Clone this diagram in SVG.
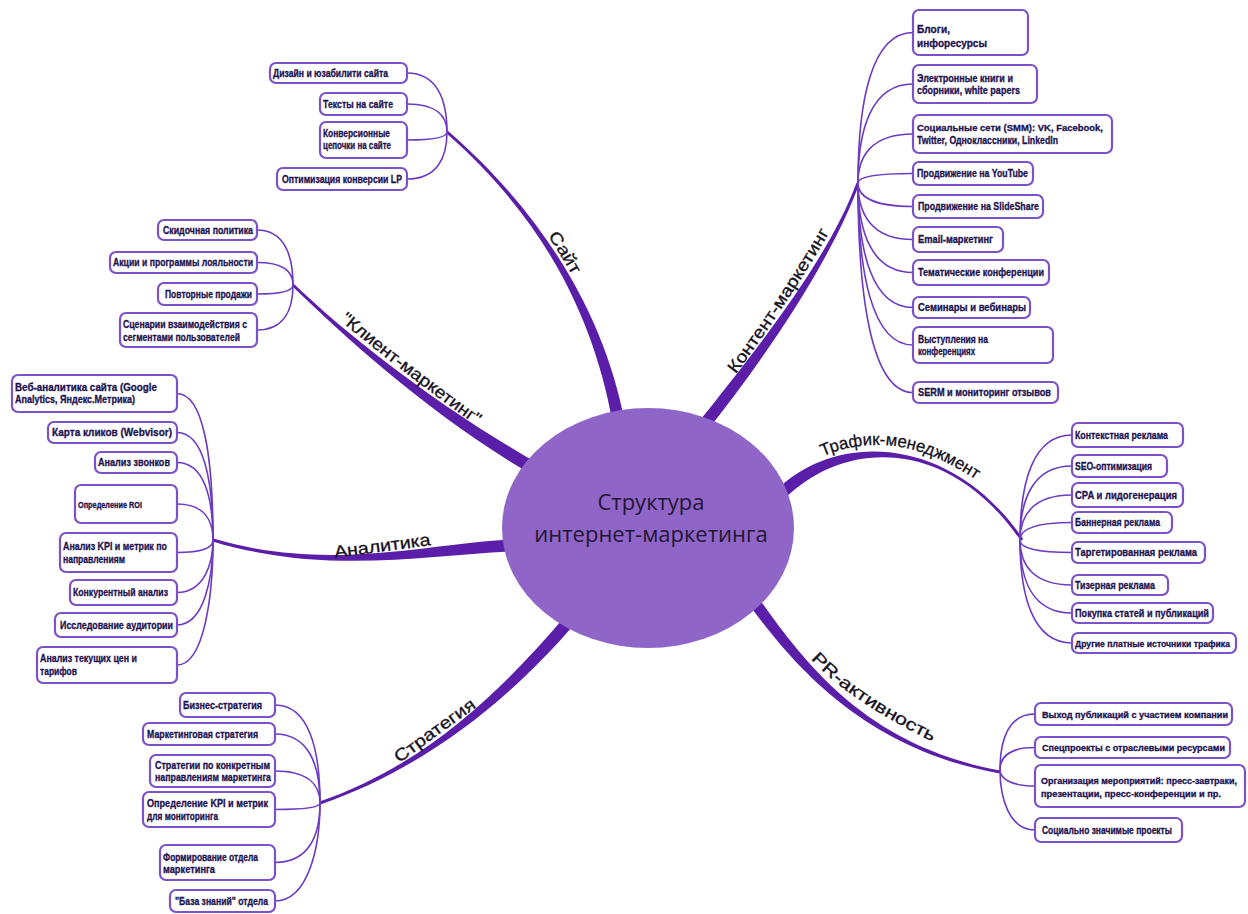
<svg xmlns="http://www.w3.org/2000/svg" width="1248" height="914" viewBox="0 0 1248 914">
<style>
  .box { fill: #ffffff; stroke: #7b52c9; stroke-width: 2.2; }
  .bt { font-family: "Liberation Sans", Arial, sans-serif; font-weight: bold; font-size: 10px; fill: #1d1250; stroke: #1d1250; stroke-width: 0.3; }
  .sm { font-size: 9px; }
  .fan { fill: none; stroke: #6c3bc2; stroke-width: 1.6; }
  .branch { fill: #5b1ea8; }
  .lbl { font-family: "Liberation Sans", Arial, sans-serif; font-size: 17px; fill: #141020; stroke: #141020; stroke-width: 0.3; }
  .title { font-family: "Open Sans", "Noto Sans", sans-serif; font-size: 22px; fill: #231634; }
</style>
<defs>
  <path id="lp-site" d="M 525.6,203.4 Q 560,250 591,310"/>
  <path id="lp-client" d="M 330,312 Q 401,372 487,433"/>
  <path id="lp-analytics" d="M 318,560 L 448,543"/>
  <path id="lp-strategy" d="M 390,770 L 486,700"/>
  <path id="lp-content" d="M 731.9,379.3 Q 788.2,303.6 832.5,227.1"/>
  <path id="lp-traffic" d="M 819,458 Q 895,423 979,482"/>
  <path id="lp-pr" d="M 793,636 Q 829,693 942,746"/>
</defs>
<rect width="1248" height="914" fill="#ffffff"/>

<g id="connectors">
  <!-- main tapered branches -->
  <path class="branch" d="M 625.9,429 C 610.9,339 561,228.9 448,130.9 L 446,133.1 C 559,231.1 599.1,341 614.1,431 Z"/>
  <path class="branch" d="M 543,466.5 C 443,409.5 351,338.9 294,283.9 L 292,286.1 C 349,341.1 437,420.5 537,477.5 Z"/>
  <path class="branch" d="M 519.8,539 C 429.8,542 330.4,573.6 213.4,538.6 L 212.6,541.4 C 329.6,576.4 430.2,554 520.2,551 Z"/>
  <path class="branch" d="M 565.4,616 C 505.4,686 429.5,763.6 319.5,801.6 L 320.5,804.4 C 430.5,766.4 514.6,694 574.6,624 Z"/>
  <path class="branch" d="M 704.7,433.8 C 764.7,358.8 831.4,260.5 859.4,183.5 L 856.6,182.5 C 828.6,259.5 755.3,351.2 695.3,426.2 Z"/>
  <path class="branch" d="M 784.2,499.2 C 844.2,439.2 948.8,435.9 1020.8,540.9 L 1023.2,539.1 C 951.2,434.1 835.8,430.8 775.8,490.8 Z"/>
  <path class="branch" d="M 730.1,578.5 C 780.1,648.5 849.7,746.5 999.7,773.5 L 1000.3,770.5 C 850.3,743.5 789.9,641.5 739.9,571.5 Z"/>

  <!-- site fan -->
  <path class="fan" d="M 407,73 C 437,73 447,99.6 447,132"/>
  <path class="fan" d="M 407,104 C 437,104 447,116.6 447,132"/>
  <path class="fan" d="M 407,140 C 437,140 447,136.4 447,132"/>
  <path class="fan" d="M 407,179 C 437,179 447,157.9 447,132"/>
  <!-- client marketing fan -->
  <path class="fan" d="M 257,230 C 284,230 293,254.8 293,285"/>
  <path class="fan" d="M 257,262.5 C 284,262.5 293,272.6 293,285"/>
  <path class="fan" d="M 257,294 C 284,294 293,290 293,285"/>
  <path class="fan" d="M 257,330 C 284,330 293,309.8 293,285"/>
  <!-- analytics fan -->
  <path class="fan" d="M 177,393.5 C 204,393.5 213,459.4 213,540"/>
  <path class="fan" d="M 177,432.5 C 204,432.5 213,480.9 213,540"/>
  <path class="fan" d="M 177,462.5 C 204,462.5 213,497.4 213,540"/>
  <path class="fan" d="M 177,504 C 204,504 213,520.2 213,540"/>
  <path class="fan" d="M 177,552.5 C 204,552.5 213,546.9 213,540"/>
  <path class="fan" d="M 177,592.5 C 204,592.5 213,563.6 213,540"/>
  <path class="fan" d="M 177,625 C 204,625 213,578.3 213,540"/>
  <path class="fan" d="M 177,665 C 204,665 213,596.3 213,540"/>
  <!-- strategy fan -->
  <path class="fan" d="M 275,705 C 308.75,705 320,749.1 320,803"/>
  <path class="fan" d="M 275,734 C 308.75,734 320,765 320,803"/>
  <path class="fan" d="M 275,771 C 308.75,771 320,785.4 320,803"/>
  <path class="fan" d="M 275,809.5 C 308.75,809.5 320,806.6 320,803"/>
  <path class="fan" d="M 275,862.5 C 308.75,862.5 320,835.7 320,803"/>
  <path class="fan" d="M 275,901 C 308.75,901 320,845.9 320,803"/>
  <!-- content marketing fan -->
  <path class="fan" d="M 913,32.5 C 871.75,32.5 858,100.2 858,183"/>
  <path class="fan" d="M 913,84 C 871.75,84 858,128.6 858,183"/>
  <path class="fan" d="M 913,134 C 871.75,134 858,156 858,183"/>
  <path class="fan" d="M 913,173.5 C 871.75,173.5 858,177.8 858,183"/>
  <path class="fan" d="M 913,206.5 C 871.75,206.5 858,195.9 858,183"/>
  <path class="fan" d="M 913,239.5 C 871.75,239.5 858,214.1 858,183"/>
  <path class="fan" d="M 913,272.5 C 871.75,272.5 858,232.3 858,183"/>
  <path class="fan" d="M 913,307.5 C 871.75,307.5 858,251 858,183"/>
  <path class="fan" d="M 913,345 C 871.75,345 858,272 858,183"/>
  <path class="fan" d="M 913,392.5 C 871.75,392.5 858,298.3 858,183"/>
  <!-- traffic fan -->
  <path class="fan" d="M 1072,435 C 1033,435 1020,482.25 1020,540"/>
  <path class="fan" d="M 1072,466 C 1033,466 1020,499.3 1020,540"/>
  <path class="fan" d="M 1072,495 C 1033,495 1020,515.25 1020,540"/>
  <path class="fan" d="M 1072,522.5 C 1033,522.5 1020,530.4 1020,540"/>
  <path class="fan" d="M 1072,552.5 C 1033,552.5 1020,546.9 1020,540"/>
  <path class="fan" d="M 1072,585 C 1033,585 1020,564.75 1020,540"/>
  <path class="fan" d="M 1072,613 C 1033,613 1020,580.9 1020,540"/>
  <path class="fan" d="M 1072,643 C 1033,643 1020,596.4 1020,540"/>
  <!-- PR fan -->
  <path class="fan" d="M 1035,714 C 1008.75,714 1000,739.2 1000,770"/>
  <path class="fan" d="M 1035,747.5 C 1008.75,747.5 1000,757.6 1000,770"/>
  <path class="fan" d="M 1035,786 C 1008.75,786 1000,777.2 1000,770"/>
  <path class="fan" d="M 1035,830 C 1008.75,830 1000,797 1000,770"/>

  <!-- branch labels -->
  <text class="lbl"><textPath href="#lp-site" startOffset="50%" text-anchor="middle" textLength="46" lengthAdjust="spacingAndGlyphs">Сайт</textPath></text>
  <text class="lbl"><textPath href="#lp-client" startOffset="50%" text-anchor="middle" textLength="172" lengthAdjust="spacingAndGlyphs">"Клиент-маркетинг"</textPath></text>
  <text class="lbl"><textPath href="#lp-analytics" startOffset="50%" text-anchor="middle" textLength="97" lengthAdjust="spacingAndGlyphs">Аналитика</textPath></text>
  <text class="lbl"><textPath href="#lp-strategy" startOffset="50%" text-anchor="middle" textLength="96" lengthAdjust="spacingAndGlyphs">Стратегия</textPath></text>
  <text class="lbl"><textPath href="#lp-content" startOffset="50%" text-anchor="middle" textLength="170" lengthAdjust="spacingAndGlyphs">Контент-маркетинг</textPath></text>
  <text class="lbl"><textPath href="#lp-traffic" startOffset="50%" text-anchor="middle" textLength="162" lengthAdjust="spacingAndGlyphs">Трафик-менеджмент</textPath></text>
  <text class="lbl"><textPath href="#lp-pr" startOffset="55%" text-anchor="middle" textLength="148" lengthAdjust="spacingAndGlyphs">PR-активность</textPath></text>
</g>

<g id="center">
  <ellipse cx="648" cy="528" rx="146" ry="120" fill="#8f65c7"/>
  <text class="title" x="651" y="510" text-anchor="middle">Структура</text>
  <text class="title" x="651" y="542" text-anchor="middle">интернет-маркетинга</text>
</g>

<!-- Сайт -->
<g id="site-design"><rect class="box" x="270" y="63" width="137" height="20" rx="6"/><text class="bt" x="273" y="76.5" textLength="115" lengthAdjust="spacingAndGlyphs">Дизайн и юзабилити сайта</text></g>
<g id="site-texts"><rect class="box" x="320" y="93" width="87" height="22" rx="6"/><text class="bt" x="323" y="107.5" textLength="70" lengthAdjust="spacingAndGlyphs">Тексты на сайте</text></g>
<g id="site-funnels"><rect class="box" x="320" y="122" width="87" height="36" rx="6"/><text class="bt" x="323" y="136.5" textLength="67" lengthAdjust="spacingAndGlyphs">Конверсионные</text><text class="bt" x="323" y="149" textLength="68" lengthAdjust="spacingAndGlyphs">цепочки на сайте</text></g>
<g id="site-lp"><rect class="box" x="277" y="168" width="130" height="22" rx="6"/><text class="bt" x="282" y="182.5" textLength="120" lengthAdjust="spacingAndGlyphs">Оптимизация конверсии LP</text></g>

<!-- Клиент-маркетинг -->
<g id="client-discount"><rect class="box" x="158" y="220" width="99" height="20" rx="6"/><text class="bt" x="163" y="233.5" textLength="90" lengthAdjust="spacingAndGlyphs">Скидочная политика</text></g>
<g id="client-loyalty"><rect class="box" x="110" y="252" width="147" height="21" rx="6"/><text class="bt" x="113" y="266" textLength="140" lengthAdjust="spacingAndGlyphs">Акции и программы лояльности</text></g>
<g id="client-repeat"><rect class="box" x="158" y="283" width="99" height="22" rx="6"/><text class="bt" x="165" y="297.5" textLength="87" lengthAdjust="spacingAndGlyphs">Повторные продажи</text></g>
<g id="client-scenarios"><rect class="box" x="120" y="313" width="137" height="34" rx="6"/><text class="bt" x="123" y="328" textLength="124" lengthAdjust="spacingAndGlyphs">Сценарии взаимодействия с</text><text class="bt" x="123" y="340.5" textLength="117" lengthAdjust="spacingAndGlyphs">сегментами пользователей</text></g>

<!-- Аналитика -->
<g id="an-web"><rect class="box" x="12" y="375" width="165" height="37" rx="6"/><text class="bt" x="15" y="390.5" textLength="142" lengthAdjust="spacingAndGlyphs">Веб-аналитика сайта  (Google</text><text class="bt" x="15" y="403" textLength="120" lengthAdjust="spacingAndGlyphs">Analytics, Яндекс.Метрика)</text></g>
<g id="an-clicks"><rect class="box" x="48" y="422" width="129" height="21" rx="6"/><text class="bt" x="52" y="436" textLength="120" lengthAdjust="spacingAndGlyphs">Карта кликов (Webvisor)</text></g>
<g id="an-calls"><rect class="box" x="95" y="452" width="82" height="21" rx="6"/><text class="bt" x="98" y="466" textLength="72" lengthAdjust="spacingAndGlyphs">Анализ звонков</text></g>
<g id="an-roi"><rect class="box" x="75" y="485" width="102" height="38" rx="6"/><text class="bt sm" x="78" y="507.5" textLength="64" lengthAdjust="spacingAndGlyphs">Определение ROI</text></g>
<g id="an-kpi"><rect class="box" x="60" y="533" width="117" height="39" rx="6"/><text class="bt" x="63" y="550" textLength="104" lengthAdjust="spacingAndGlyphs">Анализ KPI и метрик по</text><text class="bt" x="63" y="562.5" textLength="62" lengthAdjust="spacingAndGlyphs">направлениям</text></g>
<g id="an-competitors"><rect class="box" x="70" y="580" width="107" height="25" rx="6"/><text class="bt" x="73" y="596" textLength="95" lengthAdjust="spacingAndGlyphs">Конкурентный анализ</text></g>
<g id="an-audience"><rect class="box" x="55" y="613" width="122" height="24" rx="6"/><text class="bt" x="60" y="628.5" textLength="113" lengthAdjust="spacingAndGlyphs">Исследование аудитории</text></g>
<g id="an-prices"><rect class="box" x="37" y="647" width="140" height="36" rx="6"/><text class="bt" x="40" y="662" textLength="97" lengthAdjust="spacingAndGlyphs">Анализ текущих цен и</text><text class="bt" x="40" y="674.5" textLength="37" lengthAdjust="spacingAndGlyphs">тарифов</text></g>

<!-- Стратегия -->
<g id="st-business"><rect class="box" x="180" y="693" width="95" height="24" rx="6"/><text class="bt" x="183" y="708.5" textLength="79" lengthAdjust="spacingAndGlyphs">Бизнес-стратегия</text></g>
<g id="st-marketing"><rect class="box" x="143" y="723" width="132" height="22" rx="6"/><text class="bt" x="147" y="737.5" textLength="111" lengthAdjust="spacingAndGlyphs">Маркетинговая стратегия</text></g>
<g id="st-directions"><rect class="box" x="150" y="755" width="125" height="32" rx="6"/><text class="bt" x="155" y="768.5" textLength="115" lengthAdjust="spacingAndGlyphs">Стратегии по конкретным</text><text class="bt" x="155" y="781" textLength="116" lengthAdjust="spacingAndGlyphs">направлениям маркетинга</text></g>
<g id="st-kpi"><rect class="box" x="143" y="792" width="132" height="35" rx="6"/><text class="bt" x="147" y="807" textLength="121" lengthAdjust="spacingAndGlyphs">Определение KPI и метрик</text><text class="bt" x="147" y="819.5" textLength="71" lengthAdjust="spacingAndGlyphs">для мониторинга</text></g>
<g id="st-department"><rect class="box" x="160" y="845" width="115" height="35" rx="6"/><text class="bt" x="163" y="860.5" textLength="95" lengthAdjust="spacingAndGlyphs">Формирование отдела</text><text class="bt" x="163" y="873" textLength="52" lengthAdjust="spacingAndGlyphs">маркетинга</text></g>
<g id="st-knowledge"><rect class="box" x="170" y="890" width="105" height="22" rx="6"/><text class="bt" x="175" y="904.5" textLength="93" lengthAdjust="spacingAndGlyphs">"База знаний" отдела</text></g>

<!-- Контент-маркетинг -->
<g id="ct-blogs"><rect class="box" x="913" y="10" width="115" height="45" rx="6"/><text class="bt" x="917" y="33" textLength="33" lengthAdjust="spacingAndGlyphs">Блоги,</text><text class="bt" x="917" y="46.5" textLength="70" lengthAdjust="spacingAndGlyphs">инфоресурсы</text></g>
<g id="ct-ebooks"><rect class="box" x="913" y="65" width="124" height="38" rx="6"/><text class="bt" x="917" y="81.5" textLength="96" lengthAdjust="spacingAndGlyphs">Электронные книги и</text><text class="bt" x="917" y="94" textLength="103" lengthAdjust="spacingAndGlyphs">сборники, white papers</text></g>
<g id="ct-smm"><rect class="box" x="913" y="115" width="199" height="38" rx="6"/><text class="bt sm" x="917" y="131" textLength="186" lengthAdjust="spacingAndGlyphs">Социальные сети (SMM): VK, Facebook,</text><text class="bt" x="917" y="143.5" textLength="141" lengthAdjust="spacingAndGlyphs">Twitter, Одноклассники, LinkedIn</text></g>
<g id="ct-youtube"><rect class="box" x="913" y="162" width="120" height="23" rx="6"/><text class="bt" x="917" y="177" textLength="111" lengthAdjust="spacingAndGlyphs">Продвижение на YouTube</text></g>
<g id="ct-slideshare"><rect class="box" x="913" y="195" width="130" height="23" rx="6"/><text class="bt" x="918" y="210" textLength="121" lengthAdjust="spacingAndGlyphs">Продвижение на SlideShare</text></g>
<g id="ct-email"><rect class="box" x="913" y="227" width="90" height="25" rx="6"/><text class="bt" x="918" y="243" textLength="75" lengthAdjust="spacingAndGlyphs">Email-маркетинг</text></g>
<g id="ct-conferences"><rect class="box" x="913" y="260" width="136" height="25" rx="6"/><text class="bt" x="918" y="276" textLength="126" lengthAdjust="spacingAndGlyphs">Тематические конференции</text></g>
<g id="ct-webinars"><rect class="box" x="913" y="297" width="117" height="21" rx="6"/><text class="bt" x="918" y="311" textLength="108" lengthAdjust="spacingAndGlyphs">Семинары и вебинары</text></g>
<g id="ct-talks"><rect class="box" x="913" y="327" width="140" height="36" rx="6"/><text class="bt" x="918" y="342.5" textLength="70" lengthAdjust="spacingAndGlyphs">Выступления на</text><text class="bt" x="918" y="355" textLength="57" lengthAdjust="spacingAndGlyphs">конференциях</text></g>
<g id="ct-serm"><rect class="box" x="913" y="382" width="145" height="21" rx="6"/><text class="bt" x="918" y="396" textLength="133" lengthAdjust="spacingAndGlyphs">SERM и мониторинг отзывов</text></g>

<!-- Трафик-менеджмент -->
<g id="tr-context"><rect class="box" x="1072" y="423" width="111" height="24" rx="6"/><text class="bt" x="1075" y="438.5" textLength="93" lengthAdjust="spacingAndGlyphs">Контекстная реклама</text></g>
<g id="tr-seo"><rect class="box" x="1072" y="455" width="95" height="22" rx="6"/><text class="bt" x="1075" y="469.5" textLength="77" lengthAdjust="spacingAndGlyphs">SEO-оптимизация</text></g>
<g id="tr-cpa"><rect class="box" x="1072" y="483" width="111" height="24" rx="6"/><text class="bt" x="1075" y="498.5" textLength="102" lengthAdjust="spacingAndGlyphs">CPA и лидогенерация</text></g>
<g id="tr-banner"><rect class="box" x="1072" y="512" width="100" height="21" rx="6"/><text class="bt" x="1075" y="526" textLength="85" lengthAdjust="spacingAndGlyphs">Баннерная реклама</text></g>
<g id="tr-targeted"><rect class="box" x="1072" y="542" width="133" height="21" rx="6"/><text class="bt" x="1075" y="556" textLength="122" lengthAdjust="spacingAndGlyphs">Таргетированная реклама</text></g>
<g id="tr-teaser"><rect class="box" x="1072" y="575" width="96" height="20" rx="6"/><text class="bt" x="1075" y="588.5" textLength="80" lengthAdjust="spacingAndGlyphs">Тизерная реклама</text></g>
<g id="tr-articles"><rect class="box" x="1072" y="603" width="141" height="20" rx="6"/><text class="bt" x="1075" y="616.5" textLength="134" lengthAdjust="spacingAndGlyphs">Покупка статей и публикаций</text></g>
<g id="tr-other"><rect class="box" x="1072" y="633" width="164" height="20" rx="6"/><text class="bt sm" x="1075" y="646.5" textLength="155" lengthAdjust="spacingAndGlyphs">Другие платные источники трафика</text></g>

<!-- PR-активность -->
<g id="pr-publications"><rect class="box" x="1035" y="703" width="197" height="22" rx="6"/><text class="bt sm" x="1042" y="717.5" textLength="186" lengthAdjust="spacingAndGlyphs">Выход публикаций с участием компании</text></g>
<g id="pr-special"><rect class="box" x="1035" y="737" width="195" height="21" rx="6"/><text class="bt sm" x="1042" y="751" textLength="183" lengthAdjust="spacingAndGlyphs">Спецпроекты с отраслевыми ресурсами</text></g>
<g id="pr-events"><rect class="box" x="1035" y="765" width="210" height="42" rx="6"/><text class="bt sm" x="1041" y="784" textLength="196" lengthAdjust="spacingAndGlyphs">Организация мероприятий: пресс-завтраки,</text><text class="bt sm" x="1041" y="797" textLength="180" lengthAdjust="spacingAndGlyphs">презентации, пресс-конференции и пр.</text></g>
<g id="pr-social"><rect class="box" x="1035" y="818" width="147" height="24" rx="6"/><text class="bt" x="1042" y="833.5" textLength="130" lengthAdjust="spacingAndGlyphs">Социально значимые проекты</text></g>
</svg>
